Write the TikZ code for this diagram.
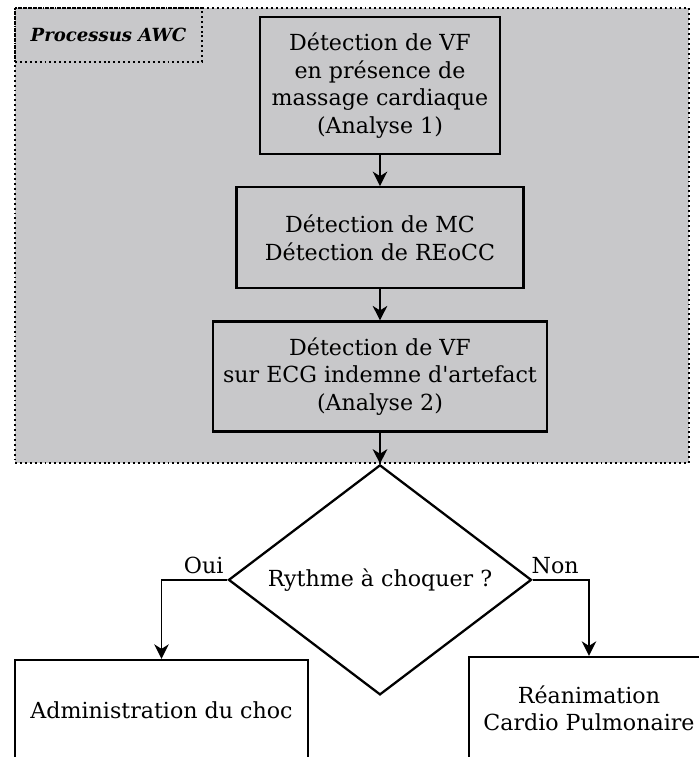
\documentclass[tikz,border=0pt]{standalone}
\usepackage{fontspec}
\setmainfont{DejaVu Serif}
\definecolor{awcgray}{RGB}{200,200,202}
\usetikzlibrary{arrows.meta, positioning, shapes.geometric, fit}
\tikzset{
	stage/.style={rectangle, draw=black, fill=awcgray, line width=1.3pt, align=center, inner sep=2pt, font=\fontsize{12.6}{15.6}\selectfont},
	outcome/.style={rectangle, draw=black, fill=white, line width=1.3pt, align=center, inner sep=2pt, font=\fontsize{12.6}{15.6}\selectfont},
	decision/.style={diamond, draw=black, fill=white, line width=1.3pt, aspect=1.32, inner sep=0pt, minimum width=6.06cm, minimum height=4.6cm, align=center, font=\fontsize{12.6}{15.6}\selectfont},
	zone/.style={rectangle, draw=black, fill=awcgray, line width=1.2pt, dash pattern=on 1.1pt off 1.7pt, inner sep=0pt},
	tag/.style={rectangle, draw=black, line width=1.2pt, dash pattern=on 1.1pt off 1.7pt, inner sep=0pt, minimum width=3.74cm, minimum height=1.08cm, font=\fontsize{10.3}{12}\selectfont\bfseries\itshape},
	answer/.style={above, inner sep=3pt, font=\fontsize{12.6}{15.6}\selectfont},
	arrow/.style={-{Stealth[length=2.9mm, width=2.9mm, inset=0.9mm]}, line width=1.1pt},
}

\begin{document}
\begin{tikzpicture}[node distance=0.62cm]
		\useasboundingbox (0,0) rectangle (13.98,-15.14);
		% zone grise du processus
		\coordinate (awcNW) at (0.3,-0.16);
		\coordinate (awcSE) at (13.78,-9.26);
		\node[zone, fit=(awcNW)(awcSE)] (awc) {};
		\node[tag, anchor=north west] (tag) at (awc.north west) {Processus AWC};
		% etapes
		\node[stage, minimum width=4.8cm, minimum height=2.74cm] (vf1) at (7.6,-1.71) {Détection de VF\\en présence de\\massage cardiaque\\(Analyse 1)};
		\node[stage, minimum width=5.74cm, minimum height=2.02cm, below=of vf1] (mc) {Détection de MC\\Détection de REoCC};
		\node[stage, minimum width=6.68cm, minimum height=2.2cm, below=of mc] (vf2) {Détection de VF\\sur ECG indemne d\textquotesingle artefact\\(Analyse 2)};
		\node[decision, below=of vf2] (rythme) {Rythme à choquer~?};
		\node[outcome, minimum width=5.86cm, minimum height=2.0cm] (choc) at (3.23,-14.2) {Administration du choc};
		\node[outcome, minimum width=4.8cm, minimum height=2.06cm] (rcp) at (11.78,-14.17) {Réanimation\\Cardio Pulmonaire};
		\draw[arrow] (vf1) -- (mc);
		\draw[arrow] (mc) -- (vf2);
		\draw[arrow] (vf2) -- (rythme);
		\draw[arrow] (rythme.west) -| node[answer, pos=0.18] {Oui} (choc.north);
		\draw[arrow] (rythme.east) -| node[answer, pos=0.2] {Non} (rcp.north);
	\end{tikzpicture}
\end{document}
